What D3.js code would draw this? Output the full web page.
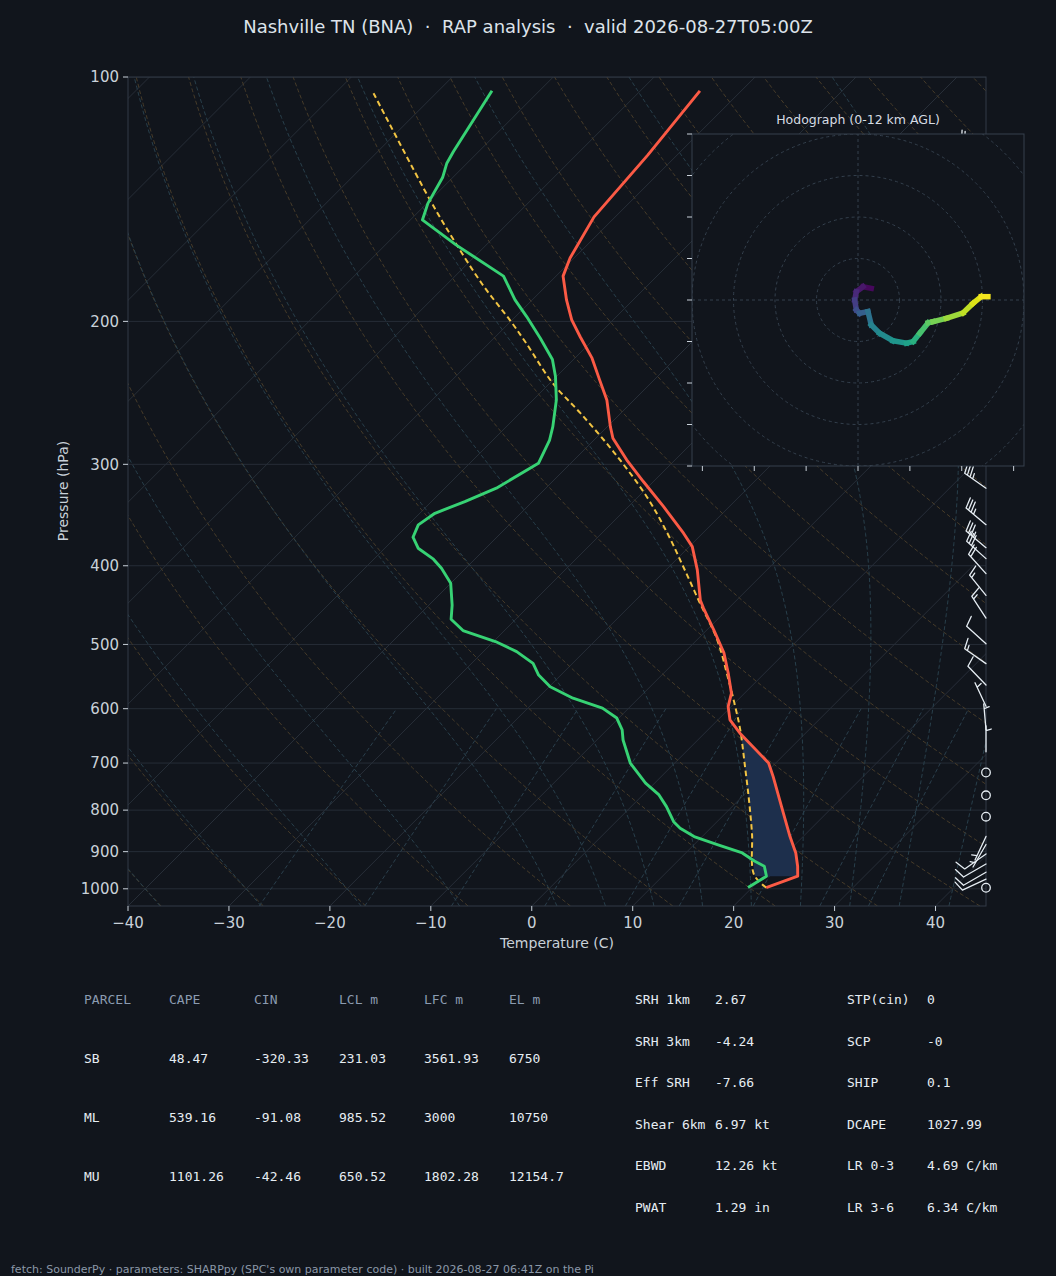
<!DOCTYPE html>
<html>
<head>
<meta charset="utf-8">
<script src="https://cdn.jsdelivr.net/npm/d3@7"></script>
<style>
html, body { margin: 0; padding: 0; background: #11151c; }
svg { display: block; }
text { font-family: "DejaVu Sans", sans-serif; }
.mono { font-family: "DejaVu Sans Mono", monospace; }
</style>
</head>
<body>
<svg id="chart" width="1056" height="1276"></svg>
<script>
// sounding (hPa, degC)
const tempP = [996.6, 965, 938, 903.3, 862.2, 792.1, 727.5, 700, 643.1, 619.4, 596.4, 574.2, 542.5, 512.6, 480, 451.1, 441, 404.7, 378.9, 364.7, 338.3, 315, 296.2, 278.6, 269.6, 249.9, 236.1, 222, 208.9, 199.2, 188.2, 175.9, 167.1, 148.7, 124.8, 104];
const tempC = [21.4, 23.4, 22.4, 20.9, 18.7, 14.9, 11.1, 9.3, 3.5, 1.2, -0.3, -1.3, -3.6, -6.0, -9.3, -12.5, -13.6, -16.9, -19.7, -21.9, -26.5, -31.0, -34.8, -38.3, -39.7, -42.7, -45.4, -48.3, -51.6, -54.1, -56.6, -59.3, -60.4, -62.1, -62.9, -64.1];

const dewP = [996.6, 965, 938, 924.3, 903.3, 882.2, 862.2, 842.2, 826.6, 792.1, 766.2, 741, 700, 655.7, 637, 616.1, 599, 582.4, 563.7, 545.4, 527.7, 510.3, 495.9, 480.7, 465.5, 447.2, 420.4, 402.9, 392.6, 380.6, 368.9, 356.2, 344.7, 333.4, 321, 299.1, 280, 269.6, 249.9, 233.9, 222.8, 209.8, 197.3, 188.2, 175.9, 161, 150, 143.1, 133, 127.7, 123.6, 104];
const dewC = [19.6, 20.3, 19.1, 17.6, 15.6, 12.3, 9.2, 7.0, 5.7, 3.5, 1.6, -0.9, -4.4, -7.4, -8.5, -10.2, -12.6, -16.5, -19.9, -22.2, -23.9, -26.7, -29.8, -34.1, -36.4, -37.7, -40.0, -42.4, -44.1, -46.7, -48.3, -49.0, -48.5, -46.7, -44.9, -43.2, -44.4, -45.4, -47.7, -50.1, -52.1, -55.4, -58.9, -61.7, -65.2, -73.0, -78.8, -79.9, -81.0, -82.0, -82.5, -84.7];

const parcelP = [996.6, 960.4, 854, 777, 706.8, 637, 596.4, 553, 493.5, 445.1, 401.1, 364.7, 328.6, 289.5, 259.5, 238.4, 212.8, 200.3, 180, 158.8, 141.8, 104.7];
const parcelC = [21.4, 18.9, 14.6, 11.0, 7.3, 3.2, 0.4, -2.9, -8.0, -13.3, -18.6, -23.5, -29.2, -36.9, -44.0, -49.7, -56.3, -59.9, -66.5, -73.7, -80.0, -96.2];

// wind barbs: pressure, speed (kt), direction (deg)
const barbP   = [123, 150, 175, 200, 225, 250, 275, 300, 321, 356, 380, 392, 409, 435, 464, 499, 528, 561, 596, 637, 678, 719, 767, 815, 862, 882, 906, 932, 954, 973, 997];
const barbSpd = [25, 30, 30, 30, 30, 30, 35, 35, 35, 35, 35, 30, 20, 15, 15, 10, 15, 10, 5, 5, 5, 0, 0, 0, 5, 5, 10, 10, 10, 10, 0];
const barbDir = [290, 290, 290, 295, 295, 300, 300, 300, 305, 310, 310, 312, 318, 321, 327, 312, 305, 316, 335, 355, 360, 0, 0, 0, 205, 210, 235, 240, 240, 245, 0];

// hodograph (kt) and height (km AGL)
const hodoU = [3.2, 1.2, -0.4, -0.8, -0.4, 0.4, 2.4, 3.2, 5.2, 8.4, 11.7, 13.3, 14.9, 16.9, 18.1, 21.3, 25.3, 27.7, 29.7, 31.3];
const hodoV = [2.8, 3.2, 2.0, 0, -2.4, -3.2, -2.8, -6.0, -8.0, -9.8, -10.4, -10.0, -8.0, -5.5, -5.2, -4.4, -3.1, -0.8, 0.8, 0.8];
const hodoZ = [0, 0.5, 1.0, 1.8, 2.5, 3.2, 4.0, 5.0, 5.5, 6.0, 6.6, 7.0, 8.2, 8.8, 9.2, 9.9, 10.6, 11.1, 11.6, 12];

const pTicks = [100, 200, 300, 400, 500, 600, 700, 800, 900, 1000];
const tTicks = [-40, -30, -20, -10, 0, 10, 20, 30, 40];
const hodoRings = [10, 20, 30, 40, 50];
const hodoYTicks = [-40, -30, -20, -10, 0, 10, 20, 30, 40];
const hodoXTicks = [-37.5, -25, -12.5, 0, 12.5, 25, 37.5];
const mixRatios = [0.0004, 0.001, 0.002, 0.004, 0.007, 0.01, 0.016, 0.024, 0.032];

const parcelHead = ["PARCEL", "CAPE", "CIN", "LCL m", "LFC m", "EL m"];
const parcelRows = [
    ["SB", "48.47", "-320.33", "231.03", "3561.93", "6750"],
    ["ML", "539.16", "-91.08", "985.52", "3000", "10750"],
    ["MU", "1101.26", "-42.46", "650.52", "1802.28", "12154.7"]
];
const kinNames = ["SRH 1km", "SRH 3km", "Eff SRH", "Shear 6km", "EBWD", "PWAT"];
const kinVals = ["2.67", "-4.24", "-7.66", "6.97 kt", "12.26 kt", "1.29 in"];
const idxNames = ["STP(cin)", "SCP", "SHIP", "DCAPE", "LR 0-3", "LR 3-6"];
const idxVals = ["0", "-0", "0.1", "1027.99", "4.69 C/km", "6.34 C/km"];

const BG = "#11151c";
const svg = d3.select("#chart");
svg.append("rect").attr("width", 1056).attr("height", 1276).attr("fill", BG);

const plot = {l: 128, r: 986, t: 77, b: 906};
const x = d3.scaleLinear().domain([-40, 45]).range([plot.l, plot.r]);
const y = d3.scaleLog().domain([1050, 100]).range([plot.b, plot.t]);
// skew: 45 degrees in screen space
const sx = (T, p) => x(T) + (plot.b - y(p));

svg.append("defs").append("clipPath").attr("id", "plotclip")
    .append("rect").attr("x", plot.l).attr("y", plot.t)
    .attr("width", plot.r - plot.l).attr("height", plot.b - plot.t);

const grid = svg.append("g").attr("clip-path", "url(#plotclip)");
const line = d3.line().x(d => d[0]).y(d => d[1]);
const pLevels = d3.range(0, 61).map(i => 1050 * Math.pow(100 / 1050, i / 60));

// horizontal pressure grid
grid.selectAll(".hgrid").data(pTicks).join("line")
    .attr("x1", plot.l).attr("x2", plot.r)
    .attr("y1", d => y(d)).attr("y2", d => y(d))
    .attr("stroke", "#262d37").attr("stroke-width", 1);

// isotherms
grid.selectAll(".iso").data(d3.range(-130, 50, 10)).join("line")
    .attr("x1", d => sx(d, 1050)).attr("y1", y(1050))
    .attr("x2", d => sx(d, 100)).attr("y2", y(100))
    .attr("stroke", "#272e38").attr("stroke-width", 1);

// dry adiabats
grid.selectAll(".dry").data(d3.range(-40, 201, 10)).join("path")
    .attr("d", th => line(pLevels.map(p => [sx((th + 273.15) * Math.pow(p / 1000, 0.2857) - 273.15, p), y(p)])))
    .attr("fill", "none").attr("stroke", "#463b29").attr("stroke-width", 1)
    .attr("stroke-dasharray", "4,2.5");

// moist adiabats
const Rd = 287.04749, Cp = 1004.6, Lv = 2.50084e6, eps = 0.622;
function satMix(T, p) {
    const tc = T - 273.15;
    const es = 6.112 * Math.exp(17.67 * tc / (tc + 243.5));
    return eps * es / (p - es);
}
function dTdlnp(T, p) {
    const rs = satMix(T, p);
    return (Rd * T + Lv * rs) / (Cp + Lv * Lv * rs * eps / (Rd * T * T));
}
function moistProfile(t0) {
    const integrate = (pEnd, n) => {
        let T = t0 + 273.15, lp = Math.log(1000);
        const h = (Math.log(pEnd) - lp) / n;
        const out = [[1000, T]];
        for (let i = 0; i < n; i++) {
            const p = Math.exp(lp);
            const k1 = dTdlnp(T, p);
            const k2 = dTdlnp(T + h * k1 / 2, Math.exp(lp + h / 2));
            const k3 = dTdlnp(T + h * k2 / 2, Math.exp(lp + h / 2));
            const k4 = dTdlnp(T + h * k3, Math.exp(lp + h));
            T += h * (k1 + 2 * k2 + 2 * k3 + k4) / 6;
            lp += h;
            out.push([Math.exp(lp), T]);
        }
        return out;
    };
    const pts = integrate(1050, 4).reverse().concat(integrate(100, 80).slice(1));
    return pts.map(d => [sx(d[1] - 273.15, d[0]), y(d[0])]);
}
const moistT0 = [-40, -30, -20, -10, 0, 5, 10, 15, 20, 25, 30, 35, 40, 45];
grid.selectAll(".moist").data(moistT0).join("path")
    .attr("d", t0 => line(moistProfile(t0)))
    .attr("fill", "none").attr("stroke", "#283f4b").attr("stroke-width", 1)
    .attr("stroke-dasharray", "4,2.5");

// mixing ratio lines
const mixP = d3.range(0, 11).map(i => 1050 - i * 45);
grid.selectAll(".mix").data(mixRatios).join("path")
    .attr("d", w => line(mixP.map(p => {
        const e = p * w / (eps + w);
        const l = Math.log(e / 6.112);
        return [sx(243.5 * l / (17.67 - l), p), y(p)];
    })))
    .attr("fill", "none").attr("stroke", "#2a3f4c").attr("stroke-width", 1)
    .attr("stroke-dasharray", "4,2.5");

// shaded layer where the environment is warmer than the parcel
function interp(ps, vs, p) {
    for (let i = 0; i < ps.length - 1; i++) {
        if (ps[i] >= p && p >= ps[i + 1]) {
            const f = (Math.log(ps[i]) - Math.log(p)) / (Math.log(ps[i]) - Math.log(ps[i + 1]));
            return vs[i] + f * (vs[i + 1] - vs[i]);
        }
    }
    return null;
}
const shadeP = d3.range(0, 121).map(i => 965 * Math.pow(600 / 965, i / 120))
    .filter(p => interp(tempP, tempC, p) - interp(parcelP, parcelC, p) >= 0);
const shadePts = shadeP.map(p => [sx(interp(tempP, tempC, p), p), y(p)])
    .concat(shadeP.slice().reverse().map(p => [sx(interp(parcelP, parcelC, p), p), y(p)]));
const data = svg.append("g").attr("clip-path", "url(#plotclip)");
data.append("path").attr("d", line(shadePts) + "Z")
    .attr("fill", "#1d2f4c").attr("stroke", "none");

const smooth = d3.line().x(d => d[0]).y(d => d[1]).curve(d3.curveCatmullRom.alpha(0.5));
data.append("path").attr("d", smooth(parcelP.map((p, i) => [sx(parcelC[i], p), y(p)])))
    .attr("fill", "none").attr("stroke", "#f2c443").attr("stroke-width", 2)
    .attr("stroke-dasharray", "5.5,3.5");
data.append("path").attr("d", line(dewP.map((p, i) => [sx(dewC[i], p), y(p)])))
    .attr("fill", "none").attr("stroke", "#37d274").attr("stroke-width", 2.9)
    .attr("stroke-linejoin", "round");
data.append("path").attr("d", line(tempP.map((p, i) => [sx(tempC[i], p), y(p)])))
    .attr("fill", "none").attr("stroke", "#fb5a45").attr("stroke-width", 2.9)
    .attr("stroke-linejoin", "round");

// frame and axes
svg.append("rect").attr("x", plot.l).attr("y", plot.t)
    .attr("width", plot.r - plot.l).attr("height", plot.b - plot.t)
    .attr("fill", "none").attr("stroke", "#333b46").attr("stroke-width", 1);

const yAxis = svg.append("g");
yAxis.selectAll("line").data(pTicks).join("line")
    .attr("x1", plot.l - 5).attr("x2", plot.l).attr("y1", d => y(d)).attr("y2", d => y(d))
    .attr("stroke", "#c9d1d9").attr("stroke-width", 1);
yAxis.selectAll("text").data(pTicks).join("text")
    .attr("x", plot.l - 9).attr("y", d => y(d)).attr("dy", "0.35em")
    .attr("text-anchor", "end").attr("font-size", 15).attr("fill", "#c9d1d9")
    .text(d => d);

const xAxis = svg.append("g");
xAxis.selectAll("line").data(tTicks).join("line")
    .attr("x1", d => x(d)).attr("x2", d => x(d)).attr("y1", plot.b).attr("y2", plot.b + 5)
    .attr("stroke", "#c9d1d9").attr("stroke-width", 1);
xAxis.selectAll("text").data(tTicks).join("text")
    .attr("x", d => x(d)).attr("y", plot.b + 22)
    .attr("text-anchor", "middle").attr("font-size", 15).attr("fill", "#c9d1d9")
    .text(d => d < 0 ? "\u2212" + Math.abs(d) : d);

svg.append("text").attr("x", 557).attr("y", 948).attr("text-anchor", "middle")
    .attr("font-size", 14).attr("fill", "#c9d1d9").text("Temperature (C)");
svg.append("text").attr("transform", "translate(68,491) rotate(-90)")
    .attr("text-anchor", "middle").attr("font-size", 14).attr("fill", "#c9d1d9")
    .text("Pressure (hPa)");

svg.append("text").attr("x", 528).attr("y", 33).attr("text-anchor", "middle")
    .attr("font-size", 18).attr("fill", "#dde3ea")
    .style("white-space", "pre")
    .text("Nashville TN (BNA)  \u00b7  RAP analysis  \u00b7  valid 2026-08-27T05:00Z");

// wind barbs along the right edge
const barbs = svg.append("g");
function drawBarb(bx, by, spd, dir) {
    const L = 26;
    const r = Math.round(spd / 5) * 5;
    if (r === 0) {
        barbs.append("circle").attr("cx", bx).attr("cy", by).attr("r", 4.3)
            .attr("fill", "none").attr("stroke", "#e6edf3").attr("stroke-width", 1.3);
        return;
    }
    const flags = Math.floor(r / 50);
    const full = Math.floor((r - flags * 50) / 10);
    const half = (r - flags * 50 - full * 10) >= 5;
    const u = -spd * Math.sin(dir * Math.PI / 180), v = -spd * Math.cos(dir * Math.PI / 180);
    const a = Math.atan2(v, u) + Math.PI / 2;
    const P = (lx, ly) => [bx + lx * Math.cos(a) - ly * Math.sin(a), by - (lx * Math.sin(a) + ly * Math.cos(a))];
    const fh = 0.4 * L, fw = 0.25 * L, sp = 0.125 * L;
    let off = L;
    let d = "M" + P(0, 0) + "L" + P(0, L);
    for (let i = 0; i < flags; i++) {
        d += "M" + P(0, off) + "L" + P(fh, off - fw / 2) + "L" + P(0, off - fw) + "Z";
        off -= fw + sp;
    }
    for (let i = 0; i < full; i++) {
        d += "M" + P(0, off) + "L" + P(fh, off + fw / 2);
        off -= sp;
    }
    if (half) {
        if (off === L) off -= 1.5 * sp;
        d += "M" + P(0, off) + "L" + P(fh / 2, off + fw / 4);
    }
    barbs.append("path").attr("d", d).attr("fill", "none")
        .attr("stroke", "#e6edf3").attr("stroke-width", 1.3).attr("stroke-linecap", "round");
}
barbP.forEach((p, i) => drawBarb(plot.r, y(p), barbSpd[i], barbDir[i]));

// hodograph inset
const hodo = {l: 692, t: 134, size: 332};
const hx = d3.scaleLinear().domain([-40, 40]).range([hodo.l, hodo.l + hodo.size]);
const hy = d3.scaleLinear().domain([-40, 40]).range([hodo.t + hodo.size, hodo.t]);
svg.select("defs").append("clipPath").attr("id", "hodoclip")
    .append("rect").attr("x", hodo.l).attr("y", hodo.t).attr("width", hodo.size).attr("height", hodo.size);
const hg = svg.append("g");
hg.append("rect").attr("x", hodo.l).attr("y", hodo.t).attr("width", hodo.size).attr("height", hodo.size)
    .attr("fill", BG);
const hin = hg.append("g").attr("clip-path", "url(#hodoclip)");
hin.selectAll("circle").data(hodoRings).join("circle")
    .attr("cx", hx(0)).attr("cy", hy(0)).attr("r", d => hx(d) - hx(0))
    .attr("fill", "none").attr("stroke", "#34404d").attr("stroke-width", 1)
    .attr("stroke-dasharray", "3,3");
hin.append("line").attr("x1", hx(-40)).attr("x2", hx(40)).attr("y1", hy(0)).attr("y2", hy(0))
    .attr("stroke", "#34404d").attr("stroke-dasharray", "3,3");
hin.append("line").attr("x1", hx(0)).attr("x2", hx(0)).attr("y1", hy(-40)).attr("y2", hy(40))
    .attr("stroke", "#34404d").attr("stroke-dasharray", "3,3");
const segs = d3.range(hodoU.length - 1);
hin.selectAll(".seg").data(segs).join("line")
    .attr("x1", i => hx(hodoU[i])).attr("y1", i => hy(hodoV[i]))
    .attr("x2", i => hx(hodoU[i + 1])).attr("y2", i => hy(hodoV[i + 1]))
    .attr("stroke", i => d3.interpolateViridis((hodoZ[i] + hodoZ[i + 1]) / 24))
    .attr("stroke-width", 5.5).attr("stroke-linecap", "square");
hg.append("rect").attr("x", hodo.l).attr("y", hodo.t).attr("width", hodo.size).attr("height", hodo.size)
    .attr("fill", "none").attr("stroke", "#36414d").attr("stroke-width", 1);
hg.selectAll(".hyt").data(hodoYTicks).join("line")
    .attr("x1", hodo.l - 5).attr("x2", hodo.l).attr("y1", d => hy(d)).attr("y2", d => hy(d))
    .attr("stroke", "#c9d1d9").attr("stroke-width", 1);
hg.selectAll(".hxt").data(hodoXTicks).join("line")
    .attr("x1", d => hx(d)).attr("x2", d => hx(d))
    .attr("y1", hodo.t + hodo.size).attr("y2", hodo.t + hodo.size + 5)
    .attr("stroke", "#c9d1d9").attr("stroke-width", 1);
hg.append("text").attr("x", hodo.l + hodo.size / 2).attr("y", 124)
    .attr("text-anchor", "middle").attr("font-size", 12.5).attr("fill", "#d6dce3")
    .text("Hodograph (0-12 km AGL)");

// parameter tables
const tbl = svg.append("g").attr("font-size", 13);
const colX = [84, 169, 254, 339, 424, 509];
tbl.selectAll(".hd").data(parcelHead).join("text")
    .attr("x", (d, i) => colX[i]).attr("y", 1004).attr("fill", "#8b9bb0")
    .attr("class", "mono").text(d => d);
parcelRows.forEach((row, r) => {
    tbl.append("g").selectAll("text").data(row).join("text")
        .attr("x", (d, i) => colX[i]).attr("y", 1063 + r * 59).attr("fill", "#e6edf3")
        .attr("class", "mono").text(d => d);
});
const rowY = i => 1004 + i * 41.6;
tbl.append("g").selectAll("text").data(kinNames).join("text")
    .attr("x", 635).attr("y", (d, i) => rowY(i)).attr("fill", "#e6edf3").attr("class", "mono").text(d => d);
tbl.append("g").selectAll("text").data(kinVals).join("text")
    .attr("x", 715).attr("y", (d, i) => rowY(i)).attr("fill", "#e6edf3").attr("class", "mono").text(d => d);
tbl.append("g").selectAll("text").data(idxNames).join("text")
    .attr("x", 847).attr("y", (d, i) => rowY(i)).attr("fill", "#e6edf3").attr("class", "mono").text(d => d);
tbl.append("g").selectAll("text").data(idxVals).join("text")
    .attr("x", 927).attr("y", (d, i) => rowY(i)).attr("fill", "#e6edf3").attr("class", "mono").text(d => d);

svg.append("text").attr("x", 11).attr("y", 1273).attr("font-size", 11).attr("fill", "#8b98a8")
    .text("fetch: SounderPy \u00b7 parameters: SHARPpy (SPC's own parameter code) \u00b7 built 2026-08-27 06:41Z on the Pi");
</script>
</body>
</html>
